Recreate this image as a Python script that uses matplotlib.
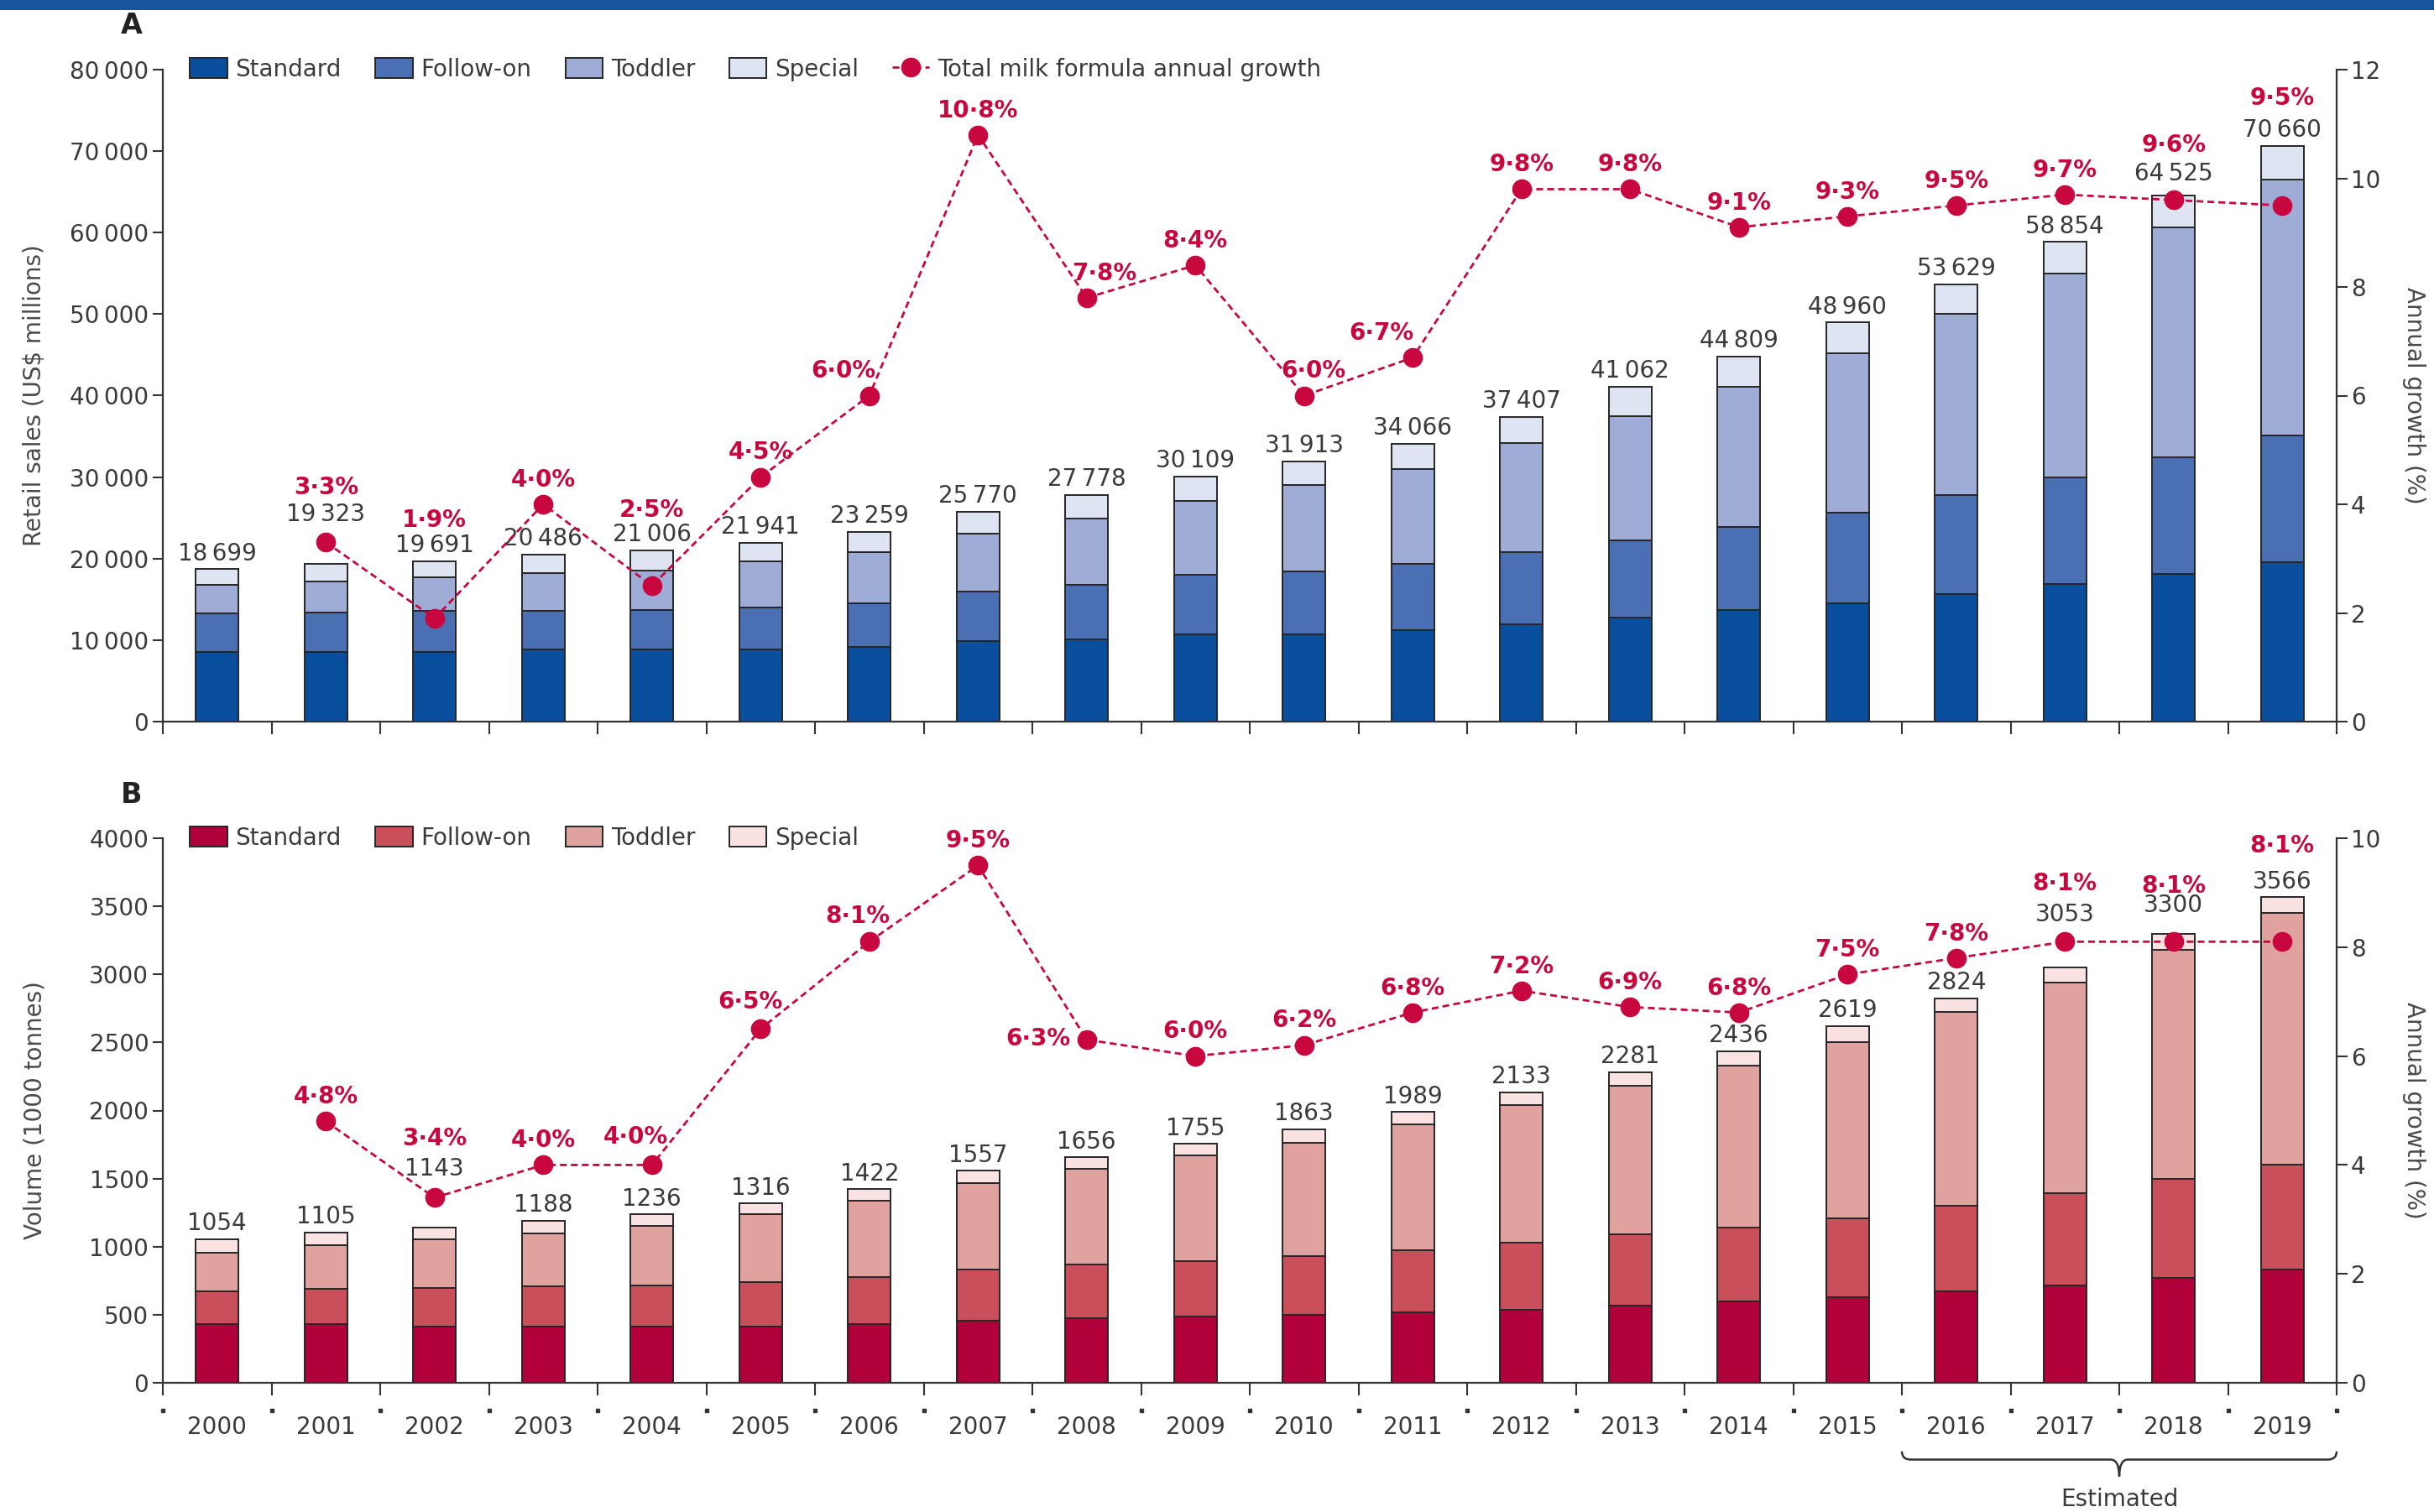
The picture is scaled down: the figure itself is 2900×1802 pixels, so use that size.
import matplotlib
matplotlib.use('Agg')
import matplotlib.pyplot as plt
import matplotlib.transforms as mtransforms
from matplotlib.path import Path
from matplotlib.patches import PathPatch, Rectangle
import numpy as np

plt.rcParams['font.family'] = ['DejaVu Sans']

# ---------------- data ----------------
years = list(range(2000, 2020))
categories = ['Standard', 'Follow-on', 'Toddler', 'Special']

# Panel A: retail sales (US$ millions)
sales_standard = [8550, 8550, 8550, 8840, 8840, 8840, 9140, 9900, 10140, 10730,
                  10730, 11200, 11970, 12790, 13680, 14560, 15620, 16920, 18160, 19570]
sales_followon = [4710, 4830, 5010, 4720, 4840, 5130, 5420, 6020, 6660, 7250,
                  7720, 8140, 8840, 9430, 10190, 11080, 12200, 13030, 14260, 15510]
sales_toddler = [3540, 3830, 4130, 4710, 4890, 5660, 6250, 7190, 8080, 9140,
                 10550, 11610, 13380, 15210, 17220, 19570, 22170, 25050, 28180, 31420]
sales_special = [1900, 2110, 2000, 2220, 2440, 2310, 2450, 2660, 2900, 2990,
                 2910, 3120, 3220, 3630, 3720, 3750, 3640, 3850, 3930, 4160]
sales_total = [18699, 19323, 19691, 20486, 21006, 21941, 23259, 25770, 27778, 30109,
               31913, 34066, 37407, 41062, 44809, 48960, 53629, 58854, 64525, 70660]
sales_growth = [np.nan, 3.3, 1.9, 4.0, 2.5, 4.5, 6.0, 10.8, 7.8, 8.4,
                6.0, 6.7, 9.8, 9.8, 9.1, 9.3, 9.5, 9.7, 9.6, 9.5]

# Panel B: volume (1000 tonnes)
vol_standard = [433, 433, 415, 415, 415, 415, 433, 458, 476, 486,
                497, 515, 539, 568, 600, 628, 674, 717, 770, 830]
vol_followon = [241, 259, 284, 291, 302, 327, 344, 376, 390, 408,
                433, 457, 490, 522, 543, 579, 628, 674, 728, 774]
vol_toddler = [284, 316, 355, 391, 433, 497, 561, 635, 703, 774,
               834, 927, 1012, 1093, 1189, 1295, 1420, 1551, 1685, 1846]
vol_special = [96, 97, 89, 91, 86, 77, 84, 88, 87, 87,
               99, 90, 92, 98, 104, 117, 102, 111, 117, 116]
vol_total = [1054, 1105, 1143, 1188, 1236, 1316, 1422, 1557, 1656, 1755,
             1863, 1989, 2133, 2281, 2436, 2619, 2824, 3053, 3300, 3566]
vol_growth = [np.nan, 4.8, 3.4, 4.0, 4.0, 6.5, 8.1, 9.5, 6.3, 6.0,
              6.2, 6.8, 7.2, 6.9, 6.8, 7.5, 7.8, 8.1, 8.1, 8.1]

estimated_years = [2016, 2017, 2018, 2019]

# ---------------- styles ----------------
blues = ['#0a4f9e', '#4a6fb3', '#9eacd6', '#dfe4f2']
reds = ['#b2003a', '#c9505a', '#e0a29e', '#f9e2e1']
RED = '#c8073f'
TXT = '#3a3a3a'
EDGE = '#262626'
FS = 20

# label offsets in points (dx, dy) relative to anchor; defaults used otherwise
A_total_dy = {2001: 43, 2018: 19}
A_growth_off = {2001: (0, 47), 2002: (0, 84), 2004: (0, 65), 2006: (-22, 21),
                2008: (15, 21), 2010: (8, 21), 2011: (-27, 21), 2018: (0, 47), 2019: (0, 92)}
B_total_dy = {2002: 50, 2017: 45, 2018: 24}
B_growth_off = {2002: (0, 51), 2004: (-14, 24), 2005: (-9, 23), 2006: (-10, 22),
                2008: (-42, 1), 2017: (0, 50), 2018: (0, 48), 2019: (0, 82)}


def fmt_num(v):
    v = int(round(v))
    if v >= 10000:
        return f"{v:,}".replace(',', '\u2009')
    return str(v)


def fmt_pct(v):
    return f"{v:.1f}".replace('.', '\u00b7') + '%'


fig = plt.figure(figsize=(29, 18.02), dpi=100)
left = 194 / 2900
width = (2784 - 194) / 2900
axA = fig.add_axes([left, 1 - 860 / 1802, width, (860 - 83) / 1802])
axB = fig.add_axes([left, 1 - 1648 / 1802, width, (1648 - 999) / 1802])

fig.add_artist(Rectangle((0, 1 - 12 / 1802), 1, 12 / 1802, transform=fig.transFigure,
                         facecolor='#17539e', edgecolor='none'))


def draw_panel(ax, segs, colors, totals, growth, ymax, ystep, gmax, ylabel,
               total_dy, growth_off, show_line_legend, show_xlabels):
    x = np.arange(len(years))
    bottom = np.zeros(len(years))
    for seg, col, name in zip(segs, colors, categories):
        ax.bar(x, seg, 0.39, bottom=bottom, color=col, edgecolor=EDGE,
               linewidth=1.4, label=name, zorder=2)
        bottom = bottom + np.array(seg)
    ax.set_xlim(-0.5, len(years) - 0.5)
    ax.set_ylim(0, ymax)
    for s in ['top', 'right']:
        ax.spines[s].set_visible(False)
    for s in ['left', 'bottom']:
        ax.spines[s].set_linewidth(1.6)
        ax.spines[s].set_color('#333333')
    ax.set_xticks(np.arange(-0.5, len(years), 1))
    ax.tick_params(axis='x', which='major', length=11, width=1.5, color='#333333',
                   labelbottom=False)
    if show_xlabels:
        ax.set_xticks(x, minor=True)
        ax.set_xticklabels([str(y) for y in years], minor=True)
        ax.tick_params(axis='x', which='minor', length=0, pad=28, labelsize=FS,
                       labelcolor=TXT)
    yt = np.arange(0, ymax + 1, ystep)
    ax.set_yticks(yt)
    ax.set_yticklabels([fmt_num(v) for v in yt])
    ax.tick_params(axis='y', length=9, width=1.5, color='#333333', labelsize=FS,
                   labelcolor=TXT, pad=3)
    ax.set_ylabel(ylabel, fontsize=FS, color='#4a4a4a')
    ax.yaxis.label.set_va('center')
    ax.yaxis.set_label_coords(-0.059, 0.5)

    for xi, yr, tv in zip(x, years, totals):
        ax.annotate(fmt_num(tv), (xi, tv), xytext=(0, total_dy.get(yr, 13.5)),
                    textcoords='offset points', ha='center', va='center',
                    fontsize=FS, color=TXT, zorder=5)

    ax2 = ax.twinx()
    ax2.set_ylim(0, gmax)
    for s in ['top', 'left', 'bottom']:
        ax2.spines[s].set_visible(False)
    ax2.spines['right'].set_linewidth(1.6)
    ax2.spines['right'].set_color('#333333')
    ax2.set_yticks(np.arange(0, gmax + 0.1, 2))
    ax2.tick_params(axis='y', length=9, width=1.5, color='#333333', labelsize=FS,
                    labelcolor=TXT, pad=3)
    ax2.set_ylabel('Annual growth (%)', fontsize=FS, color='#4a4a4a', rotation=270)
    ax2.yaxis.label.set_va('center')
    ax2.yaxis.set_label_coords(1.0355, 0.5)
    line, = ax2.plot(x, growth, ls=(0, (2.9, 1.8)), lw=2.0, color=RED, marker='o',
                     ms=16, mec=RED, mfc=RED, zorder=4,
                     label='Total milk formula annual growth')
    for xi, yr, g in zip(x, years, growth):
        if np.isnan(g):
            continue
        dx, dy = growth_off.get(yr, (0, 21))
        ax2.annotate(fmt_pct(g), (xi, g), xytext=(dx, dy), textcoords='offset points',
                     ha='center', va='center', fontsize=FS, color=RED,
                     fontweight='bold', zorder=6)

    handles, labels = ax.get_legend_handles_labels()
    if show_line_legend:
        handles.append(line)
        labels.append(line.get_label())
    leg = ax2.legend(handles, labels, loc='center left', bbox_to_anchor=(0.0125, 1.0),
                     ncol=len(handles), frameon=False, fontsize=FS, handlelength=1.6,
                     handleheight=0.95, handletextpad=0.35, columnspacing=1.45,
                     borderaxespad=0, borderpad=0)
    for t in leg.get_texts():
        t.set_color(TXT)
    return ax2


draw_panel(axA, [sales_standard, sales_followon, sales_toddler, sales_special], blues,
           sales_total, sales_growth, 80000, 10000, 12, 'Retail sales (US\\$ millions)',
           A_total_dy, A_growth_off, True, False)
draw_panel(axB, [vol_standard, vol_followon, vol_toddler, vol_special], reds,
           vol_total, vol_growth, 4000, 500, 10, 'Volume (1000 tonnes)',
           B_total_dy, B_growth_off, False, True)

fig.text(157 / 2900, 1 - 30 / 1802, 'A', fontsize=24, fontweight='bold', ha='center',
         va='center', color='#222222')
fig.text(157 / 2900, 1 - 948 / 1802, 'B', fontsize=24, fontweight='bold', ha='center',
         va='center', color='#222222')

# small dots below the tick marks of panel B
trans = mtransforms.blended_transform_factory(axB.transData, axB.transAxes)
bounds = np.arange(-0.5, len(years), 1)
axB.plot(bounds, np.full(len(bounds), -0.051), ls='none', marker='s', ms=2.2,
         color='#333333', transform=trans, clip_on=False)

# "Estimated" brace
x0 = years.index(estimated_years[0]) - 0.5
x1 = years.index(estimated_years[-1]) + 0.5
xm = (x0 + x1) / 2
ye, yl, yt_ = -0.126, -0.141, -0.172
r = 0.08
verts = [(x0, ye), (x0, yl), (x0 + r, yl), (xm - r, yl), (xm, yl), (xm, yt_),
         (xm, yl), (xm + r, yl), (x1 - r, yl), (x1, yl), (x1, ye)]
codes = [Path.MOVETO, Path.CURVE3, Path.CURVE3, Path.LINETO, Path.CURVE3, Path.CURVE3,
         Path.CURVE3, Path.CURVE3, Path.LINETO, Path.CURVE3, Path.CURVE3]
brace = PathPatch(Path(verts, codes), transform=trans, fill=False, edgecolor='#333333',
                  lw=1.8, clip_on=False)
axB.add_patch(brace)
axB.text(xm, -0.214, 'Estimated', transform=trans, ha='center', va='center',
         fontsize=FS, color=TXT)

fig.savefig('out.png', dpi=100, facecolor='white')
